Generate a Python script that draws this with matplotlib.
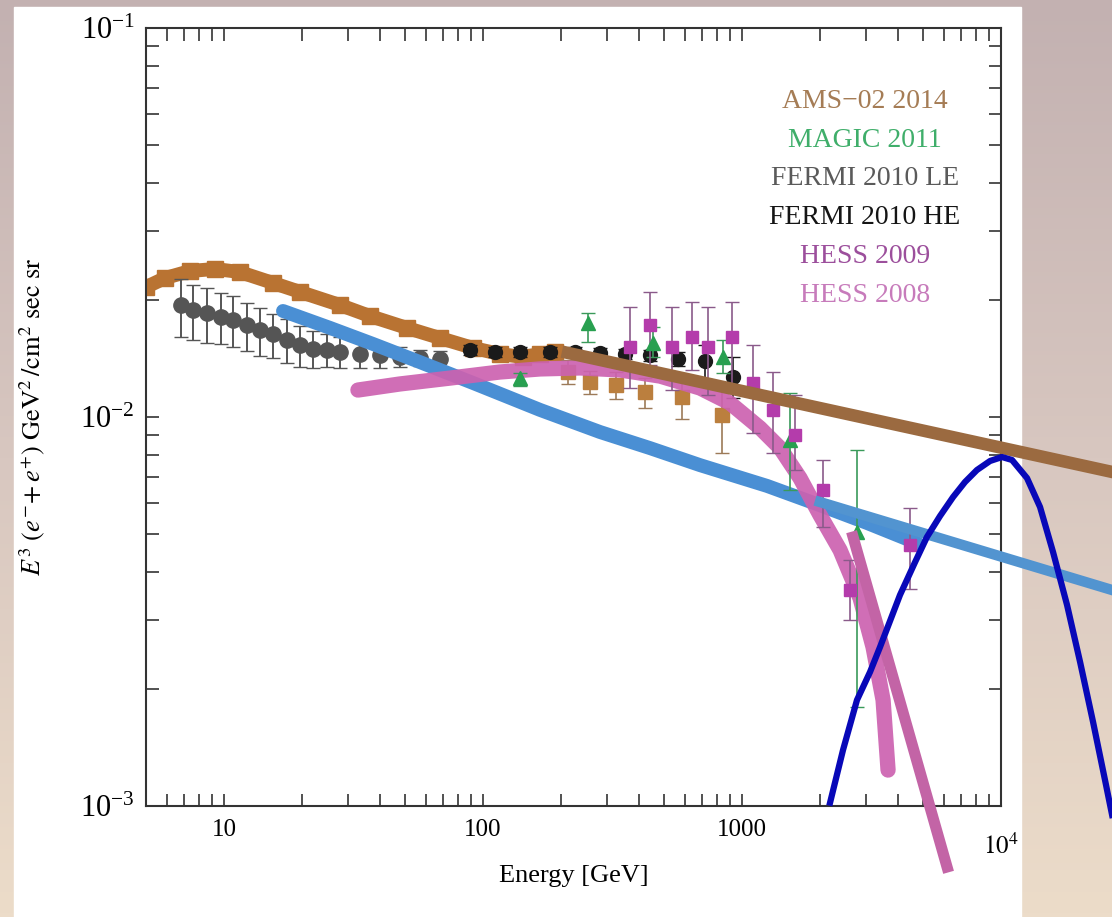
import matplotlib.pyplot as plt
import numpy as np
from matplotlib.colors import LinearSegmentedColormap
from matplotlib.patches import Rectangle
from matplotlib.ticker import NullFormatter
from matplotlib.transforms import ScaledTranslation

plt.rcParams['font.family'] = ['Liberation Serif', 'DejaVu Serif']
plt.rcParams['mathtext.fontset'] = 'stix'

# AMS-02 2014: dense band at low energy, then points with error bars
ams_band_e = [5.0, 5.92, 7.39, 9.23, 11.5, 15.5, 19.7, 28.0, 36.6, 50.9, 68.2, 91.5, 116, 143, 166, 190]
ams_band_f = [0.02158, 0.02276, 0.02373, 0.02402, 0.02359, 0.02210, 0.02096, 0.01941, 0.01818,
              0.01694, 0.01596, 0.01505, 0.01452, 0.01426, 0.01452, 0.01470]
ams_e = [213, 259, 326, 422, 587, 838]
ams_f = [0.01306, 0.01230, 0.01208, 0.01159, 0.01125, 0.01012]
ams_rel = [0.07, 0.07, 0.08, 0.09, 0.12, 0.20]

# Fermi 2010 low energy
fermi_le_e = [6.8, 7.6, 8.6, 9.7, 10.8, 12.3, 13.8, 15.5, 17.5, 19.7, 22.1, 25.0,
              28.1, 33.5, 40.0, 47.8, 57.1, 68.2]
fermi_le_f = [0.0194, 0.0188, 0.0185, 0.0181, 0.0178, 0.0172, 0.0167, 0.0163, 0.0158, 0.0153,
              0.0150, 0.0149, 0.0147, 0.0145, 0.0144, 0.0143, 0.0142, 0.0141]
fermi_le_rel = [0.17, 0.16, 0.16, 0.15, 0.15, 0.14, 0.14, 0.13, 0.13, 0.12, 0.11, 0.10,
                0.09, 0.08, 0.07, 0.06, 0.05, 0.05]

# Fermi 2010 high energy
fermi_he_e = [89, 111, 139, 182, 227, 283, 353, 441, 566, 720, 923]
fermi_he_f = [0.0149, 0.0147, 0.0147, 0.0147, 0.0147, 0.0146, 0.0145, 0.0144, 0.0141, 0.0139, 0.0127]
fermi_he_rel = [0.03, 0.03, 0.03, 0.03, 0.03, 0.03, 0.03, 0.03, 0.04, 0.10, 0.12]

# MAGIC 2011
magic_e = [139, 254, 454, 845, 1532, 2780]
magic_f = [0.01259, 0.01745, 0.01549, 0.01427, 0.00873, 0.00506]
magic_lo = [0.01200, 0.01560, 0.01427, 0.01295, 0.00649, 0.00180]
magic_hi = [0.01300, 0.01851, 0.01703, 0.01578, 0.01153, 0.00822]

# HESS 2009
hess09_e = [370, 441, 536, 641, 739, 916, 1104, 1318, 1603, 2056, 2612, 4455]
hess09_f = [0.01514, 0.01723, 0.01514, 0.01606, 0.01514, 0.01606, 0.01223, 0.01042, 0.00899,
            0.00649, 0.00359, 0.00469]
hess09_lo = [0.01187, 0.01360, 0.01173, 0.01321, 0.01139, 0.01209, 0.00910, 0.00808, 0.00731,
             0.00522, 0.00301, 0.00361]
hess09_hi = [0.01918, 0.02096, 0.01918, 0.01975, 0.01918, 0.01975, 0.01532, 0.01305, 0.01139,
             0.00775, 0.00429, 0.00583]

# HESS 2008 band
hess08_e = [32.9, 47.8, 74.6, 116, 166, 237, 338, 483, 689, 899, 1174, 1403, 1675, 2000,
            2391, 2857, 3206, 3505, 3664]
hess08_f = [0.01173, 0.01216, 0.01259, 0.01305, 0.01329, 0.01337, 0.01321, 0.01274, 0.01187,
            0.01086, 0.009369, 0.008322, 0.006967, 0.005598, 0.004549, 0.003424, 0.002563,
            0.001873, 0.001237]

# blue model band
model_e = [16.9, 25.7, 37.6, 57.1, 91.6, 166, 283, 441, 689, 1250, 1949, 3040, 4740]
model_f = [0.01873, 0.01694, 0.01541, 0.01384, 0.01223, 0.01043, 0.00915, 0.00832, 0.00752,
           0.00665, 0.00597, 0.00534, 0.00474]

# extrapolations drawn on top
brown_e = [213, 26850]
brown_f = [0.01461, 0.007223]
blue_e = [2000, 26850]
blue_f = [0.006045, 0.003591]
pink_e = [2685, 6190]
pink_f = [0.004914, 0.000697]
bump_e = [2188, 2455, 2780, 3122, 3412, 4074, 4660, 5176, 5816, 6531, 7263, 8075, 9073,
          10090, 11030, 12600, 14150, 15880, 17990, 20200, 22670, 25440, 26850]
bump_f = [0.00102, 0.001393, 0.001873, 0.002211, 0.002563, 0.003487, 0.004238, 0.004914,
          0.005565, 0.006227, 0.006807, 0.007307, 0.007708, 0.00789, 0.007754, 0.006967,
          0.005869, 0.004498, 0.003286, 0.002345, 0.001644, 0.001132, 0.000948]

W, H = 1112, 917
fig = plt.figure(figsize=(W / 100, H / 100), dpi=100)

# slide background with white panel
bg = fig.add_axes([0, 0, 1, 1], zorder=0)
grad = np.linspace(0, 1, 256).reshape(-1, 1)
cmap = LinearSegmentedColormap.from_list('bg', ['#c3b1b1', '#d8c7c0', '#ecdcc9'])
bg.imshow(grad, aspect='auto', cmap=cmap, extent=[0, 1, 0, 1], origin='upper')
bg.add_patch(Rectangle((14 / W, 0), (1021 - 14) / W, (H - 7) / H, color='white'))
bg.set_xlim(0, 1)
bg.set_ylim(0, 1)
bg.axis('off')

ax = fig.add_axes([146 / W, (H - 806) / H, 855 / W, 778 / H], zorder=1)
ax.patch.set_alpha(0)
ax.set_xscale('log')
ax.set_yscale('log')
ax.set_xlim(5, 1e4)
ax.set_ylim(1e-3, 1e-1)

ax.plot(ams_band_e, ams_band_f, color='#b97332', lw=10, marker='s', ms=11, zorder=2)
f = np.array(ams_f)
ax.errorbar(ams_e, ams_f, yerr=[f * np.array(ams_rel), f * np.array(ams_rel)], fmt='s',
            color='#bb7f3e', ms=10, ecolor='#9c7a58', elinewidth=1.2, capsize=5, zorder=2)

f = np.array(fermi_le_f)
ax.errorbar(fermi_le_e, fermi_le_f, yerr=f * np.array(fermi_le_rel), fmt='o', color='#555555',
            ms=11, ecolor='#555555', elinewidth=1.4, capsize=5, zorder=3)
f = np.array(fermi_he_f)
ax.errorbar(fermi_he_e, fermi_he_f, yerr=f * np.array(fermi_he_rel), fmt='o', color='#1a1a1a',
            ms=10, ecolor='#1a1a1a', elinewidth=1.2, capsize=5, zorder=3)

ax.plot(model_e, model_f, color='#4a8fd4', lw=10, solid_capstyle='round',
        solid_joinstyle='round', zorder=4)
ax.plot(hess08_e, hess08_f, color='#cc62b0', lw=11, solid_capstyle='round',
        solid_joinstyle='round', alpha=0.92, zorder=5)

f = np.array(magic_f)
ax.errorbar(magic_e, magic_f, yerr=[f - np.array(magic_lo), np.array(magic_hi) - f], fmt='^',
            color='#28a050', ms=10, ecolor='#3a9a5a', elinewidth=1.2, capsize=5, zorder=6)
f = np.array(hess09_f)
ax.errorbar(hess09_e, hess09_f, yerr=[f - np.array(hess09_lo), np.array(hess09_hi) - f], fmt='s',
            color='#b43cab', ms=9, ecolor='#8a5a8a', elinewidth=1.2, capsize=5, zorder=6)

ax.plot(pink_e, pink_f, color='#c364a6', lw=8, clip_on=False, zorder=7)
ax.plot(blue_e, blue_f, color='#5294d0', lw=7.5, clip_on=False, zorder=8)
ax.plot(brown_e, brown_f, color='#9b6a40', lw=9, clip_on=False, zorder=9)
ax.plot(bump_e, bump_f, color='#0808b8', lw=4.5, solid_joinstyle='round', clip_on=False, zorder=10)

ax.set_xticks([10, 100, 1000, 1e4])
ax.set_xticklabels(['10', '100', '1000', '$10^4$'])
ax.xaxis.set_minor_formatter(NullFormatter())
ax.yaxis.set_minor_formatter(NullFormatter())
ax.tick_params(which='both', direction='in', top=True, right=True, length=9, width=1.2,
               color='#333333', pad=9)
ax.tick_params(axis='x', labelsize=18)
ax.tick_params(axis='y', labelsize=22, pad=8)
for s in ax.spines.values():
    s.set_linewidth(1.5)
    s.set_color('#333333')

# the 10^4 label sits a little lower than the others
last = ax.get_xticklabels()[-1]
last.set_transform(last.get_transform() + ScaledTranslation(0, -0.15, fig.dpi_scale_trans))

ax.set_xlabel('Energy [GeV]', fontsize=19)
ax.xaxis.set_label_coords(0.5, -0.076)
ax.set_ylabel(r'$E^3\ (e^{-}\!+e^{+})\ \mathrm{GeV}^2\,/\mathrm{cm}^2\ \mathrm{sec\ sr}$',
              fontsize=19)
ax.yaxis.set_label_coords(-0.116, 0.5)

names = ['AMS\u221202 2014', 'MAGIC 2011', 'FERMI 2010 LE', 'FERMI 2010 HE', 'HESS 2009', 'HESS 2008']
name_colors = ['#a57c55', '#3fae6a', '#5a5a5a', '#151515', '#9c4f9c', '#c77bbb']
for i, (n, c) in enumerate(zip(names, name_colors)):
    ax.text(0.841, 0.906 - 0.05 * i, n, color=c, fontsize=20, ha='center', va='center',
            transform=ax.transAxes, zorder=11)

fig.savefig('out.png', dpi=100)
